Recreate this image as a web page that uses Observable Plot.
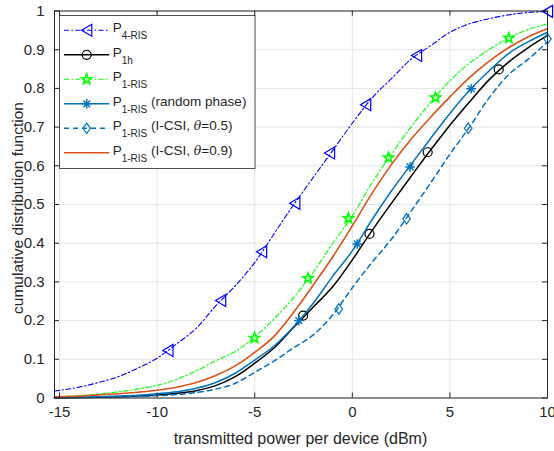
<!DOCTYPE html>
<html><head><meta charset="utf-8">
<script src="https://cdn.jsdelivr.net/npm/d3@7"></script>
<script src="https://cdn.jsdelivr.net/npm/@observablehq/plot@0.6"></script>
<style>
body{margin:0;background:#fff;}
#chart{width:554px;height:451px;position:relative;}
</style></head><body><div id="chart"></div>
<script>
// ---- data ----
const xGrid = [-15.26,-14,-13,-12,-11,-10,-9,-8,-7,-6,-5,-4,-3,-2,-1,0,1,2,3,4,5,6,7,8,9,10];
const p4RIS   = [0.018,0.028,0.040,0.055,0.077,0.103,0.140,0.180,0.238,0.290,0.350,0.425,0.500,0.570,0.640,0.710,0.775,0.825,0.875,0.910,0.945,0.967,0.980,0.990,0.996,0.999];
const p1h     = [0.000,0.001,0.002,0.003,0.005,0.008,0.012,0.019,0.032,0.055,0.090,0.130,0.183,0.235,0.288,0.357,0.432,0.503,0.572,0.640,0.705,0.765,0.822,0.868,0.905,0.937];
const p1RIS   = [0.003,0.006,0.010,0.016,0.023,0.033,0.048,0.070,0.096,0.120,0.158,0.205,0.260,0.325,0.400,0.470,0.555,0.630,0.700,0.763,0.820,0.865,0.900,0.930,0.952,0.967];
const p1Rand  = [0.001,0.002,0.003,0.005,0.007,0.011,0.016,0.025,0.040,0.064,0.098,0.135,0.185,0.245,0.315,0.380,0.460,0.535,0.603,0.670,0.735,0.795,0.845,0.890,0.920,0.945];
const p1Csi05 = [0.000,0.001,0.002,0.003,0.004,0.006,0.009,0.014,0.023,0.038,0.066,0.096,0.130,0.163,0.215,0.285,0.350,0.410,0.482,0.555,0.630,0.700,0.775,0.835,0.875,0.920];
const p1Csi09 = [0.003,0.005,0.008,0.011,0.015,0.020,0.028,0.040,0.058,0.083,0.118,0.160,0.222,0.292,0.365,0.445,0.528,0.603,0.668,0.725,0.778,0.828,0.870,0.905,0.933,0.954];

// marker positions
const mkP4X = [-9.45,-6.75,-4.65,-2.95,-1.17,0.68,3.29,10];
const mkP4Y = [0.123,0.252,0.378,0.503,0.633,0.758,0.885,0.999];
const mkP1hX = [-2.52,0.88,3.86,7.5];
const mkP1hY = [0.213,0.424,0.635,0.849];
const mkP1X = [-5.01,-2.27,-0.2,1.85,4.26,8.02];
const mkP1Y = [0.155,0.309,0.464,0.621,0.776,0.93];
const mkRandX = [-2.74,0.25,2.96,6.09];
const mkRandY = [0.2,0.398,0.597,0.799];
const mkCsiX = [-0.69,2.78,5.94,10];
const mkCsiY = [0.23,0.463,0.697,0.928];

const xTicks = [-15,-10,-5,0,5,10];
const yTicks = [0,0.1,0.2,0.3,0.4,0.5,0.6,0.7,0.8,0.9,1];
const yTickLabels = ["0","0.1","0.2","0.3","0.4","0.5","0.6","0.7","0.8","0.9","1"];

const xLabel = "transmitted power per device (dBm)";
const yLabel = "cumulative distribution function";
const legendSubs = ["4-RIS","1h","1-RIS","1-RIS","1-RIS","1-RIS"];
const legendSuffix = [null,null,null,["(random phase)"],["(I-CSI, ","θ","=0.5)"],["(I-CSI, ","θ","=0.9)"]];

// ---- styles ----
const FONT = "'Liberation Sans', Arial, Helvetica, sans-serif";
const TXT = "#262626";
const cBlue = "#0000ff", cBlack = "#000000", cGreen = "#00ff00", cMat = "#0072bd", cOrange = "#d95319";
const dashDot = "5,2.5,1.5,2.5";
const dashed = "5,4";

// custom symbols
const rOf = s => Math.sqrt(s / Math.PI);
const triLeft = {draw(ctx, s){const r=rOf(s); ctx.moveTo(-0.85*r,0); ctx.lineTo(0.85*r,-r); ctx.lineTo(0.85*r,r); ctx.closePath();}};
const circ = {draw(ctx, s){const r=rOf(s); ctx.moveTo(r,0); ctx.arc(0,0,r,0,2*Math.PI);}};
const diam = {draw(ctx, s){const r=rOf(s); ctx.moveTo(0,-r); ctx.lineTo(0.72*r,0); ctx.lineTo(0,r); ctx.lineTo(-0.72*r,0); ctx.closePath();}};
const star5 = {draw(ctx, s){const r=rOf(s), ri=r*0.42; for(let k=0;k<10;k++){const a=-Math.PI/2+k*Math.PI/5; const rr=k%2?ri:r; const px=rr*Math.cos(a), py=rr*Math.sin(a); if(k===0) ctx.moveTo(px,py); else ctx.lineTo(px,py);} ctx.closePath();}};
const aster = {draw(ctx, s){const r=rOf(s), q=r*0.7071; ctx.moveTo(-r,0); ctx.lineTo(r,0); ctx.moveTo(0,-r); ctx.lineTo(0,r); ctx.moveTo(-q,-q); ctx.lineTo(q,q); ctx.moveTo(-q,q); ctx.lineTo(q,-q);}};

const series = [
  {y: p4RIS,   color: cBlue,   w: 1.1, dash: dashDot, sym: triLeft, r: 6,   sw: 1.2, fill: "none", mx: mkP4X,   my: mkP4Y},
  {y: p1h,     color: cBlack,  w: 1.5, dash: null,    sym: circ,    r: 4.5, sw: 1.2, fill: "none", mx: mkP1hX,  my: mkP1hY},
  {y: p1RIS,   color: cGreen,  w: 1.1, dash: dashDot, sym: star5,   r: 5.5, sw: 1.5, fill: "#9dff9d", mx: mkP1X,   my: mkP1Y},
  {y: p1Rand,  color: cMat,    w: 1.5, dash: null,    sym: aster,   r: 4.8, sw: 1.4, fill: "none", mx: mkRandX, my: mkRandY},
  {y: p1Csi05, color: cMat,    w: 1.5, dash: dashed,  sym: diam,    r: 5.2, sw: 1.2, fill: "none", mx: mkCsiX,  my: mkCsiY},
  {y: p1Csi09, color: cOrange, w: 1.6, dash: null,    sym: null,    r: 0,   sw: 0,   fill: "none", mx: [],      my: []}
];

const W = 554, H = 451, mL = 54, mR = 7, mT = 10.5, mB = 53.5;
const innerW = W - mL - mR, innerH = H - mT - mB;

const marks = [
  Plot.gridX(xTicks, {stroke: "#e5e5e5", strokeOpacity: 1}),
  Plot.gridY(yTicks, {stroke: "#e5e5e5", strokeOpacity: 1})
];
series.forEach(s => {
  marks.push(Plot.line(xGrid, {x: xGrid, y: s.y, stroke: s.color, strokeWidth: s.w, strokeDasharray: s.dash, curve: "monotone-x"}));
  if (s.sym) marks.push(Plot.dot(s.mx, {x: s.mx, y: s.my, symbol: s.sym, r: s.r, fill: s.fill, stroke: s.color, strokeWidth: s.sw}));
});
marks.push(
  Plot.frame({stroke: TXT, strokeWidth: 1}),
  Plot.ruleX(xTicks, {x: d => d, insetTop: innerH - 5, stroke: TXT}),
  Plot.ruleX(xTicks, {x: d => d, insetBottom: innerH - 5, stroke: TXT}),
  Plot.ruleY(yTicks, {y: d => d, insetRight: innerW - 5, stroke: TXT}),
  Plot.ruleY(yTicks, {y: d => d, insetLeft: innerW - 5, stroke: TXT}),
  Plot.axisX(xTicks, {tickSize: 0, tickPadding: 8, label: null, tickFormat: d => String(d)}),
  Plot.axisY(yTicks, {tickSize: 0, tickPadding: 10, label: null, tickFormat: (d, i) => yTickLabels[i]})
);

const plot = Plot.plot({
  width: W, height: H,
  marginLeft: mL, marginRight: mR, marginTop: mT, marginBottom: mB,
  x: {domain: [-15.26, 10]},
  y: {domain: [0, 1]},
  style: {fontFamily: FONT, fontSize: "15px", color: TXT, background: "white", overflow: "visible"},
  marks
});
document.getElementById("chart").appendChild(plot);

// ---- axis titles & legend ----
const svg = d3.select(plot);
svg.append("text").attr("x", (mL + W - mR) / 2).attr("y", 444).attr("text-anchor", "middle")
  .attr("font-family", FONT).attr("font-size", 16).attr("fill", TXT).text(xLabel);
svg.append("text").attr("transform", `translate(22.5,208) rotate(-90)`).attr("text-anchor", "middle")
  .attr("font-family", FONT).attr("font-size", 15.5).attr("fill", TXT).text(yLabel);

const lg = svg.append("g").attr("font-family", FONT).attr("fill", TXT).attr("text-anchor", "start");
lg.append("rect").attr("x", 59.5).attr("y", 15.5).attr("width", 195.5).attr("height", 153)
  .attr("fill", "white").attr("stroke", TXT).attr("stroke-width", 0.8);
series.forEach((s, i) => {
  const cy = 30.3 + i * 24.5;
  lg.append("line").attr("x1", 64).attr("x2", 109.3).attr("y1", cy).attr("y2", cy)
    .attr("stroke", s.color).attr("stroke-width", s.w).attr("stroke-dasharray", s.dash);
  if (s.sym) lg.append("path").attr("d", d3.symbol(s.sym, s.r * s.r * Math.PI)())
    .attr("transform", `translate(86.7,${cy})`).attr("fill", s.fill).attr("stroke", s.color).attr("stroke-width", s.sw);
  const t = lg.append("text").attr("x", 112.7).attr("y", cy + 2).attr("font-size", 13.5).attr("text-anchor", "start");
  t.append("tspan").text("P");
  t.append("tspan").attr("font-size", 10).attr("dy", 6.7).text(legendSubs[i]);
  const suf = legendSuffix[i];
  if (suf) {
    suf.forEach((part, k) => {
      const sp = t.append("tspan").text(part);
      if (k === 0) sp.attr("dy", -6.7).attr("dx", 3.8);
      if (part === "θ") sp.attr("font-style", "italic").attr("font-family", "'DejaVu Serif', serif").attr("font-size", 12.5);
    });
  }
});
</script>
</body></html>
